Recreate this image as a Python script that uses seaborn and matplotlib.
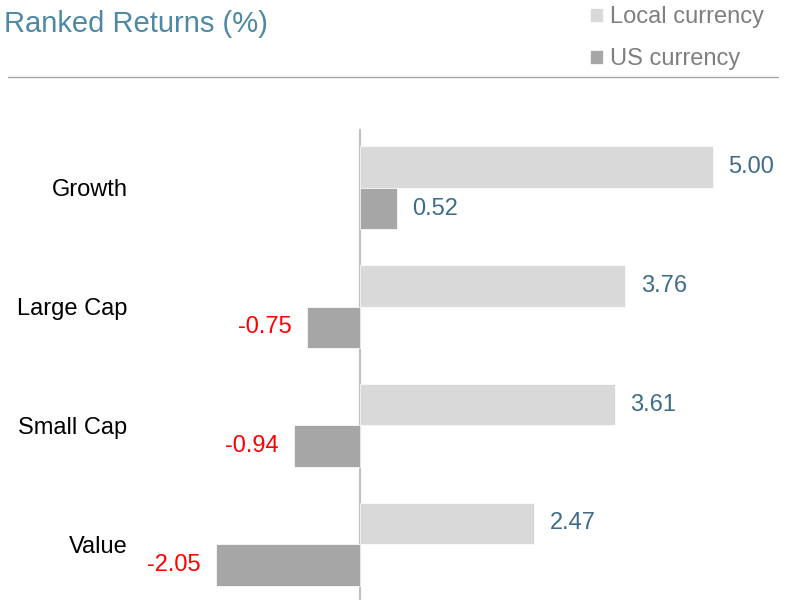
import pandas as pd
import matplotlib
matplotlib.use('Agg')
import matplotlib.pyplot as plt
import seaborn as sns
from matplotlib.lines import Line2D

# Data
categories = ['Growth', 'Large Cap', 'Small Cap', 'Value']
local_returns = [5.00, 3.76, 3.61, 2.47]
us_returns = [0.52, -0.75, -0.94, -2.05]
series_names = ['Local currency', 'US currency']

df = pd.DataFrame({
    'Category': categories * 2,
    'Return': local_returns + us_returns,
    'Series': [series_names[0]] * 4 + [series_names[1]] * 4,
})

sns.set_style('white')
plt.rcParams['font.family'] = ['Liberation Sans', 'DejaVu Sans']

fig = plt.figure(figsize=(7.92, 6), dpi=100)
ax = fig.add_axes([140 / 792, -3.5 / 600, 640 / 792, 475 / 600])

sns.barplot(
    data=df, x='Return', y='Category', hue='Series', orient='h',
    palette=['#D9D9D9', '#A6A6A6'], width=0.7, dodge=True,
    edgecolor='white', linewidth=0.5, ax=ax, legend=True
)

ax.set_xlim(-3.12, 5.95)
ax.axvline(0, color='#BFBFBF', linewidth=1.5, zorder=0)

# value labels
for container in ax.containers:
    texts = ax.bar_label(container, fmt='%.2f', padding=11, fontsize=17)
    for t, bar in zip(texts, container):
        t.set_color('#3E6C88' if bar.get_width() >= 0 else '#FF0000')

for s in ax.spines.values():
    s.set_visible(False)
ax.set_xticks([])
ax.set_xlabel('')
ax.set_ylabel('')
ax.tick_params(axis='y', length=0, pad=9, labelsize=17, labelcolor='black')

# legend
handles, labels = ax.get_legend_handles_labels()
ax.get_legend().remove()
leg = fig.legend(handles, labels, loc='upper left', bbox_to_anchor=(569 / 792, 1.025),
                 frameon=False, fontsize=17, handlelength=0.55, handleheight=0.55,
                 handletextpad=0.3, labelspacing=0.85)
for t in leg.get_texts():
    t.set_color('#7F7F7F')

fig.text(4 / 792, 1 - 24 / 600, 'Ranked Returns (%)', fontsize=21,
         color='#4E88A3', va='center', ha='left')
fig.add_artist(Line2D([8 / 792, 778 / 792], [1 - 77 / 600, 1 - 77 / 600],
                      color='#A6A6A6', linewidth=1))

fig.savefig('out.png', dpi=100)
